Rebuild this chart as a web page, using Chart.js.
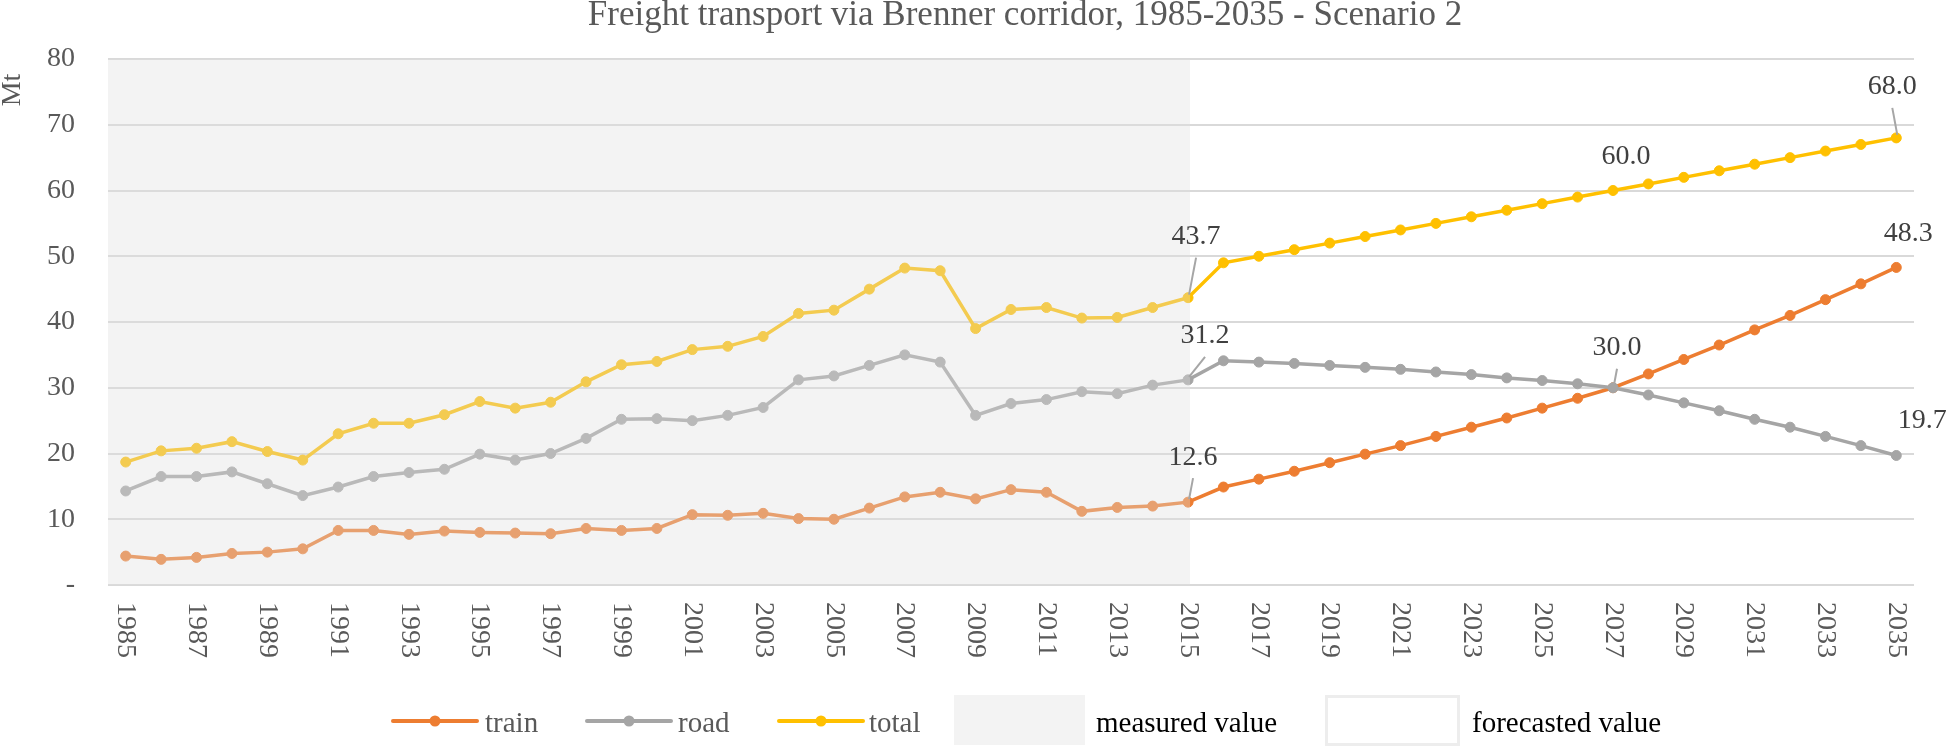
<!DOCTYPE html>
<html>
<head>
<meta charset="utf-8">
<script src="https://cdn.jsdelivr.net/npm/chart.js@4.4.1/dist/chart.umd.min.js"></script>
<style>
html,body{margin:0;padding:0;background:#fff;}
canvas{display:block;}
</style>
</head>
<body>
<canvas id="c" width="1946" height="747"></canvas>
<script>
const years = ["1985","1986","1987","1988","1989","1990","1991","1992","1993","1994","1995","1996","1997","1998","1999","2000","2001","2002","2003","2004","2005","2006","2007","2008","2009","2010","2011","2012","2013","2014","2015","2016","2017","2018","2019","2020","2021","2022","2023","2024","2025","2026","2027","2028","2029","2030","2031","2032","2033","2034","2035"];
const train = [4.4,3.9,4.2,4.8,5.0,5.5,8.3,8.3,7.7,8.2,8.0,7.9,7.8,8.6,8.3,8.6,10.7,10.6,10.9,10.1,10.0,11.7,13.4,14.1,13.1,14.5,14.1,11.2,11.8,12.0,12.6,14.9,16.1,17.3,18.6,19.9,21.2,22.6,24.0,25.4,26.9,28.4,30.0,32.1,34.3,36.5,38.8,41.0,43.4,45.8,48.3];
const road = [14.3,16.5,16.5,17.2,15.4,13.6,14.9,16.5,17.1,17.6,19.9,19.0,20.0,22.3,25.2,25.3,25.0,25.8,27.0,31.2,31.8,33.4,35.0,33.9,25.8,27.6,28.2,29.4,29.1,30.4,31.2,34.1,33.9,33.7,33.4,33.1,32.8,32.4,32.0,31.5,31.1,30.6,30.0,28.9,27.7,26.5,25.2,24.0,22.6,21.2,19.7];
const total = [18.7,20.4,20.8,21.8,20.3,19.0,23.0,24.6,24.6,25.9,27.9,26.9,27.8,30.9,33.5,34.0,35.8,36.3,37.8,41.3,41.8,45.0,48.2,47.8,39.0,41.9,42.2,40.6,40.7,42.2,43.7,49.0,50.0,51.0,52.0,53.0,54.0,55.0,56.0,57.0,58.0,59.0,60.0,61.0,62.0,63.0,64.0,65.0,66.0,67.0,68.0];
const seriesNames = ["train","road","total"];
const yTicks = [0,10,20,30,40,50,60,70,80];
const lastMeasuredYear = "2015";
const titleText = "Freight transport via Brenner corridor, 1985-2035 - Scenario 2";
const yTitle = "Mt";
const bandNames = ["measured value","forecasted value"];

const COLORS = ["#ED7D31","#A5A5A5","#FFC000"];
const FONT = "'Liberation Serif', 'Times New Roman', serif";
const TXT = "#595959";

// value labels: [datasetIndex, year, dx, dy, leader]
const valueLabels = [
  [2, "2015", 8, -61, true],
  [1, "2015", 17, -44, true],
  [0, "2015", 5, -45, true],
  [2, "2027", 13, -34, false],
  [2, "2035", -4, -51, true],
  [0, "2035", 12, -34, false],
  [1, "2027", 4, -40, true],
  [1, "2035", 26, -35, false]
];

const drawPlugin = {
  id: 'customDraw',
  afterDatasetsDraw(chart) {
    const {ctx, chartArea: ca, scales: {x}} = chart;
    const xEnd = x.getPixelForValue(years.indexOf(lastMeasuredYear)) + 2;
    ctx.save();
    ctx.fillStyle = 'rgba(222,222,222,0.36)';
    ctx.fillRect(ca.left, ca.top, xEnd - ca.left, ca.bottom - ca.top);
    ctx.restore();
  },
  afterDraw(chart) {
    const {ctx, chartArea: ca, scales: {x}} = chart;
    ctx.save();
    // title
    ctx.fillStyle = TXT;
    ctx.font = "35px " + FONT;
    ctx.textAlign = 'center';
    ctx.textBaseline = 'alphabetic';
    ctx.fillText(titleText, 1025, 25);
    // y title
    ctx.save();
    ctx.translate(13, 90);
    ctx.rotate(-Math.PI / 2);
    ctx.font = "28px " + FONT;
    ctx.textBaseline = 'middle';
    ctx.fillText(yTitle, 0, 0);
    ctx.restore();
    // x tick labels, rotated clockwise
    ctx.font = "28px " + FONT;
    ctx.textAlign = 'left';
    ctx.textBaseline = 'middle';
    x.ticks.forEach((t) => {
      if (!t.label) return;
      const px = x.getPixelForValue(t.value);
      ctx.save();
      ctx.translate(px, ca.bottom + 17);
      ctx.rotate(Math.PI / 2);
      ctx.fillText(t.label, 0, 0);
      ctx.restore();
    });
    // value labels
    ctx.font = "28px " + FONT;
    ctx.textAlign = 'center';
    ctx.textBaseline = 'middle';
    valueLabels.forEach(([di, yr, dx, dy, leader]) => {
      const idx = years.indexOf(yr);
      const el = chart.getDatasetMeta(di).data[idx];
      const v = chart.data.datasets[di].data[idx];
      const tx = el.x + dx, ty = el.y + dy;
      if (leader) {
        ctx.strokeStyle = '#A6A6A6';
        ctx.lineWidth = 2;
        ctx.beginPath();
        ctx.moveTo(tx, ty + 21);
        ctx.lineTo(el.x + 1, el.y - 3);
        ctx.stroke();
      }
      ctx.fillStyle = '#404040';
      ctx.fillText(v.toFixed(1), tx, ty);
    });
    // legend
    const ly = 721;
    const items = [[393, 485], [587, 678], [779, 869]];
    ctx.textAlign = 'left';
    ctx.textBaseline = 'alphabetic';
    ctx.font = "29px " + FONT;
    items.forEach(([lx, tx], i) => {
      ctx.strokeStyle = COLORS[i];
      ctx.lineWidth = 4;
      ctx.lineCap = 'round';
      ctx.beginPath();
      ctx.moveTo(lx, ly);
      ctx.lineTo(lx + 84, ly);
      ctx.stroke();
      ctx.fillStyle = COLORS[i];
      ctx.beginPath();
      ctx.arc(lx + 42, ly, 5.5, 0, Math.PI * 2);
      ctx.fill();
      ctx.fillStyle = TXT;
      ctx.fillText(seriesNames[i], tx, ly + 11);
    });
    ctx.fillStyle = '#F3F3F3';
    ctx.fillRect(954, 695, 131, 50);
    ctx.fillStyle = '#000';
    ctx.fillText(bandNames[0], 1096, ly + 11);
    ctx.strokeStyle = '#EDEDED';
    ctx.lineWidth = 3;
    ctx.strokeRect(1326.5, 696.5, 132, 48);
    ctx.fillStyle = '#000';
    ctx.fillText(bandNames[1], 1472, ly + 11);
    ctx.restore();
  }
};

const mk = (i, data) => ({
  label: seriesNames[i],
  data: data,
  borderColor: COLORS[i],
  backgroundColor: COLORS[i],
  pointBackgroundColor: COLORS[i],
  pointBorderColor: COLORS[i],
  pointRadius: 5,
  pointBorderWidth: 1,
  borderWidth: 3.5,
  tension: 0,
  fill: false,
  order: 3 - i
});

new Chart(document.getElementById('c'), {
  type: 'line',
  data: {
    labels: years,
    datasets: [mk(0, train), mk(1, road), mk(2, total)]
  },
  options: {
    responsive: false,
    animation: false,
    devicePixelRatio: 1,
    layout: { padding: { left: 0, right: 32, top: 59, bottom: 0 } },
    plugins: { legend: { display: false }, title: { display: false }, tooltip: { enabled: false } },
    scales: {
      x: {
        type: 'category',
        offset: true,
        grid: { display: false, drawTicks: false },
        border: { display: false },
        ticks: {
          autoSkip: false,
          maxRotation: 90,
          minRotation: 90,
          color: 'rgba(0,0,0,0)',
          font: { family: FONT, size: 28 },
          callback: function(v, i) { return i % 2 === 0 ? years[i] : ''; }
        },
        afterFit: (s) => { s.height = 162; }
      },
      y: {
        min: 0,
        max: 80,
        afterBuildTicks: (s) => { s.ticks = yTicks.map(v => ({ value: v })); },
        grid: { color: '#D9D9D9', lineWidth: 2, drawTicks: false },
        border: { display: false },
        ticks: {
          padding: 33,
          color: TXT,
          font: { family: FONT, size: 28 },
          callback: (v) => v === 0 ? '-' : String(v)
        },
        afterFit: (s) => { s.width = 108; }
      }
    }
  },
  plugins: [drawPlugin]
});
</script>
</body>
</html>
